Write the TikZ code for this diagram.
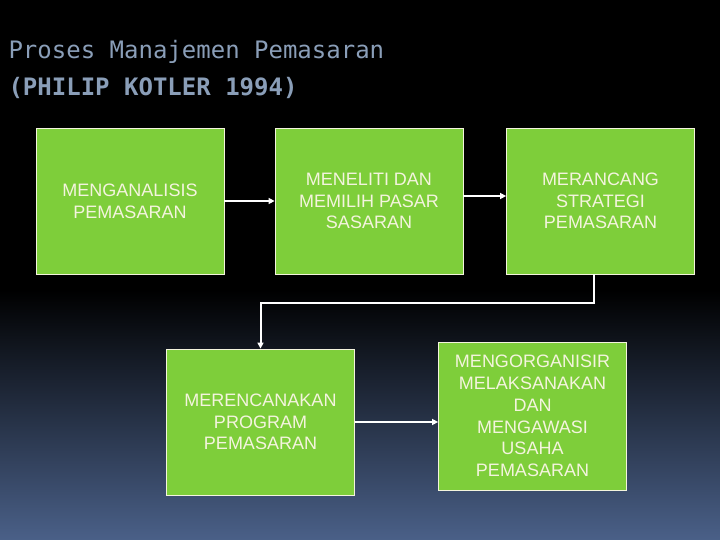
\documentclass[tikz,border=0pt]{standalone}
\usepackage{fontspec}
\setmainfont{Liberation Sans}
\newfontfamily\titlefont{DejaVu Sans Mono}
\usepackage{tikz}
\usetikzlibrary{arrows.meta}
\definecolor{boxgreen}{RGB}{126,206,58}
\definecolor{boxtext}{RGB}{244,244,222}
\definecolor{titleblue}{RGB}{138,158,184}
\definecolor{bgblue}{RGB}{74,96,136}
\tikzset{
  box/.style={draw=boxtext, line width=0.8pt, fill=boxgreen, text=boxtext,
    minimum width=188pt, minimum height=146pt, align=center,
    font=\fontsize{18}{21.8}\selectfont, inner sep=0pt},
  arr/.style={draw=white, line width=2pt, -{Triangle[length=6pt,width=6pt]}}
}
\begin{document}
\begin{tikzpicture}[x=1pt,y=-1pt]
\fill[black] (0,0) rectangle (720,290);
\shade[top color=black, bottom color=bgblue] (0,290) rectangle (720,540);
\useasboundingbox (0,0) rectangle (720,540);
\node[anchor=west, text=titleblue, font=\titlefont\fontsize{24}{28}\selectfont] (t1) at (5,52) {Proses Manajemen Pemasaran};
\node[anchor=west, text=titleblue, font=\titlefont\bfseries\fontsize{24}{28}\selectfont] (t2) at (5,88) {(PHILIP KOTLER 1994)};
\node[box] (analisis) at (130,201) {MENGANALISIS\\PEMASARAN};
\node[box] (meneliti) at (369,201) {MENELITI DAN\\MEMILIH PASAR\\SASARAN};
\node[box] (strategi) at (600.5,201) {MERANCANG\\STRATEGI\\PEMASARAN};
\node[box] (program) at (260.5,422) {MERENCANAKAN\\PROGRAM\\PEMASARAN};
\node[box, minimum height=148pt] (usaha) at (532.5,416) {MENGORGANISIR\\MELAKSANAKAN\\DAN\\MENGAWASI\\USAHA\\PEMASARAN};
\draw[arr] (analisis.east) -- (meneliti.west);
\draw[arr] ([yshift=5pt]meneliti.east) -- ([yshift=5pt]strategi.west);
\draw[arr] ([xshift=-7pt]strategi.south) -- ++(0,29) -| (program.north);
\draw[arr] (program.east) -- (program.east -| usaha.west);
\end{tikzpicture}
\end{document}
